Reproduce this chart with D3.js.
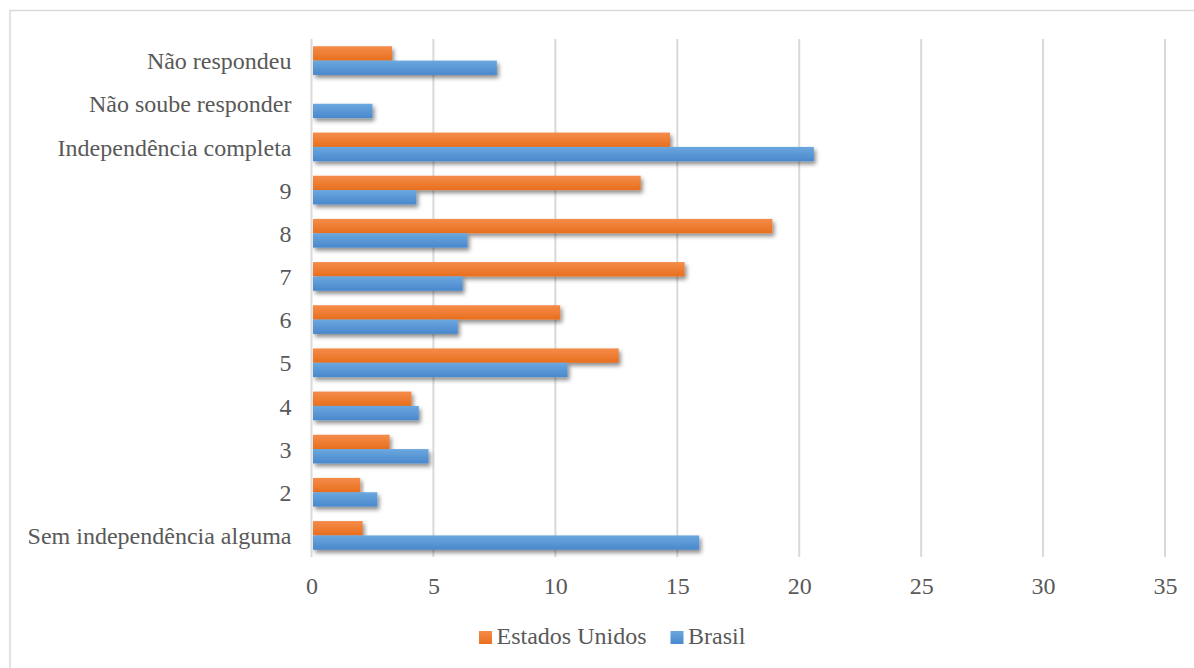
<!DOCTYPE html>
<html>
<head>
<meta charset="utf-8">
<script src="https://cdn.jsdelivr.net/npm/d3@7/dist/d3.min.js"></script>
<style>
  html, body { margin: 0; padding: 0; background: #fff; }
  svg { display: block; }
</style>
</head>
<body>
<svg id="chart" width="1194" height="668"></svg>
<script>
// Categories listed bottom-to-top as they appear on the vertical axis
const categories = [
  "Sem independência alguma", "2", "3", "4", "5", "6", "7", "8", "9",
  "Independência completa", "Não soube responder", "Não respondeu"
];
const seriesNames = ["Estados Unidos", "Brasil"];
const estadosUnidos = [2.1, 2.0, 3.2, 4.1, 12.6, 10.2, 15.3, 18.9, 13.5, 14.7, 0, 3.3];
const brasil        = [15.9, 2.7, 4.8, 4.4, 10.5, 6.0, 6.2, 6.4, 4.3, 20.6, 2.5, 7.6];
const xTicks = [0, 5, 10, 15, 20, 25, 30, 35];

const seriesValues = { "Estados Unidos": estadosUnidos, "Brasil": brasil };
const seriesColors = {
  "Estados Unidos": { top: "#f48c4b", bottom: "#e96f1d", key: "orangeGrad" },
  "Brasil":         { top: "#6ba7df", bottom: "#4988cc", key: "blueGrad" }
};

const textColor = "#595959";
const gridColor = "#d9d9d9";
const fontFamily = "'Liberation Serif', 'Times New Roman', serif";

const svg = d3.select("#chart");
const defs = svg.append("defs");

// Vertical gradients for the bar fills
Object.values(seriesColors).forEach(c => {
  const g = defs.append("linearGradient")
    .attr("id", c.key).attr("x1", 0).attr("y1", 0).attr("x2", 0).attr("y2", 1);
  g.append("stop").attr("offset", "0%").attr("stop-color", c.top);
  g.append("stop").attr("offset", "100%").attr("stop-color", c.bottom);
});

// Soft drop shadow under each bar
const shadow = defs.append("filter").attr("id", "barShadow")
  .attr("x", "-5%").attr("y", "-30%").attr("width", "115%").attr("height", "190%");
shadow.append("feDropShadow")
  .attr("dx", 2).attr("dy", 3).attr("stdDeviation", 2)
  .attr("flood-color", "#000").attr("flood-opacity", 0.45);

// Outer chart frame (extends past the right and bottom edges)
svg.append("rect")
  .attr("x", 10).attr("y", 10.5).attr("width", 1200).attr("height", 700)
  .attr("fill", "none").attr("stroke", gridColor).attr("stroke-width", 1.5);

const plot = { left: 311.5, right: 1165, top: 39, bottom: 557 };

const x = d3.scaleLinear().domain([0, 35]).range([plot.left, plot.right]);
const y = d3.scaleBand()
  .domain(categories.slice().reverse())
  .range([plot.top, plot.bottom])
  .paddingInner(0.335).paddingOuter(0.1675);
const ySub = d3.scaleBand().domain(seriesNames).range([0, y.bandwidth()]).padding(0);

// Vertical gridlines
svg.append("g")
  .selectAll("line")
  .data(xTicks.slice(1))
  .join("line")
  .attr("x1", d => x(d)).attr("x2", d => x(d))
  .attr("y1", plot.top).attr("y2", plot.bottom)
  .attr("stroke", gridColor).attr("stroke-width", 2);

// Bars
const groups = svg.append("g")
  .selectAll("g")
  .data(categories)
  .join("g")
  .attr("transform", d => `translate(0,${y(d)})`);

groups.selectAll("rect")
  .data((cat, i) => seriesNames.map(s => ({ s, v: seriesValues[s][i] })))
  .join("rect")
  .filter(d => d.v > 0)
  .attr("x", x(0) + 1.5)
  .attr("y", d => ySub(d.s))
  .attr("width", d => x(d.v) - x(0) - 1.5)
  .attr("height", ySub.bandwidth())
  .attr("fill", d => `url(#${seriesColors[d.s].key})`)
  .attr("filter", "url(#barShadow)");

// Vertical axis line
svg.append("line")
  .attr("x1", x(0)).attr("x2", x(0))
  .attr("y1", plot.top).attr("y2", plot.bottom)
  .attr("stroke", gridColor).attr("stroke-width", 2);

// Category labels
const yAxis = d3.axisLeft(y).tickSize(0).tickPadding(20);
const yg = svg.append("g").attr("transform", `translate(${x(0)},0)`).call(yAxis);
yg.select(".domain").remove();
yg.attr("font-family", null).attr("font-size", null);
yg.selectAll("text")
  .attr("fill", textColor)
  .style("font-family", fontFamily)
  .style("font-size", "24px")
  .attr("dy", "0.36em");

// Value axis labels
const xAxis = d3.axisBottom(x).tickValues(xTicks).tickSize(0).tickPadding(0)
  .tickFormat(d3.format("d"));
const xg = svg.append("g").attr("transform", `translate(0,${plot.bottom})`).call(xAxis);
xg.select(".domain").remove();
xg.attr("font-family", null).attr("font-size", null);
xg.selectAll("text")
  .attr("fill", textColor)
  .attr("y", 37)
  .attr("dy", 0)
  .style("font-family", fontFamily)
  .style("font-size", "24px");

// Legend
const legend = svg.append("g").attr("transform", "translate(479,631)");
const legendX = { "Estados Unidos": 0, "Brasil": 191.5 };
seriesNames.forEach(s => {
  const g = legend.append("g").attr("transform", `translate(${legendX[s]},0)`);
  g.append("rect")
    .attr("width", 13).attr("height", 13)
    .attr("fill", `url(#${seriesColors[s].key})`);
  g.append("text")
    .attr("x", 17.5).attr("y", 13.3)
    .attr("fill", textColor)
    .style("font-family", fontFamily)
    .style("font-size", "24px")
    .text(s);
});
</script>
</body>
</html>
